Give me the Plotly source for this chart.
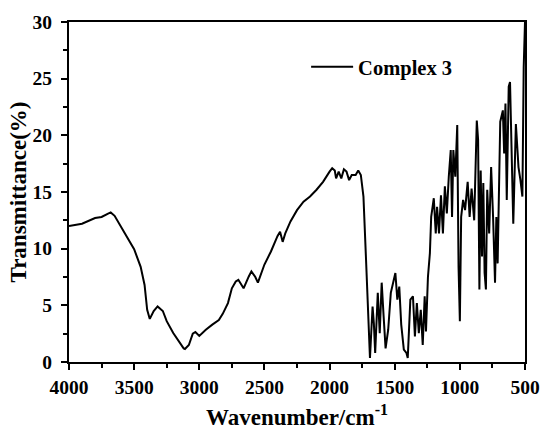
import plotly.graph_objects as go

# FT-IR spectrum of Complex 3 (wavenumber in cm^-1, transmittance in %)
wavenumber = [
    4000, 3900, 3800, 3750, 3700, 3680, 3650, 3600, 3550, 3500, 3450, 3420,
    3400, 3380, 3350, 3320, 3280, 3250, 3200, 3150, 3120, 3110, 3080, 3050,
    3030, 3000, 2950, 2900, 2870, 2850, 2820, 2780, 2750, 2720, 2700, 2660,
    2620, 2600, 2570, 2550, 2500, 2450, 2400, 2380, 2360, 2340, 2300, 2250,
    2200, 2150, 2100, 2050, 2000, 1980, 1960, 1950, 1930, 1910, 1890, 1870,
    1850, 1830, 1800, 1780, 1760, 1740, 1720, 1700, 1690, 1670, 1660, 1650,
    1630, 1615, 1600, 1585, 1570, 1550, 1530, 1510, 1495, 1480, 1465, 1450,
    1430, 1410, 1400, 1380, 1360, 1345, 1330, 1315, 1300, 1285, 1270, 1260,
    1245, 1230, 1220, 1200, 1185, 1175, 1160, 1145, 1130, 1115, 1100, 1085,
    1070, 1060, 1050, 1035, 1020, 1010, 1000, 990, 975, 960, 940, 925,
    910, 890, 870, 860, 850, 840, 830, 820, 810, 800, 790, 775,
    760, 745, 730, 720, 710, 690, 670, 660, 650, 640, 625, 615,
    600, 590, 570, 550, 535, 520, 510, 500,
]
transmittance = [
    12.0, 12.2, 12.7, 12.8, 13.1, 13.2, 12.9, 11.9, 10.9, 9.95, 8.4, 6.8,
    4.6, 3.8, 4.5, 4.9, 4.5, 3.6, 2.55, 1.7, 1.2, 1.15, 1.5, 2.5,
    2.65, 2.3, 2.85, 3.3, 3.5, 3.7, 4.25, 5.2, 6.5, 7.1, 7.25, 6.5,
    7.55, 8.0, 7.5, 7.0, 8.6, 9.75, 11.1, 11.5, 10.6, 11.35, 12.4, 13.4,
    14.15, 14.6, 15.2, 15.9, 16.8, 17.1, 16.9, 16.2, 16.8, 16.2, 17.0, 16.8,
    16.05, 16.5, 16.5, 16.9, 16.5, 14.6, 9.0, 3.1, 0.35, 4.9, 3.4, 0.8,
    6.1, 2.55, 7.0, 4.0, 1.2, 2.85, 6.1, 7.1, 7.85, 5.5, 6.65, 3.3,
    1.1, 0.8, 0.35, 5.5, 5.8, 2.25, 5.2, 2.55, 4.6, 1.5, 5.8, 2.7,
    7.5, 9.6, 12.8, 14.45, 11.35, 13.7, 11.35, 14.7, 11.35, 15.5, 13.1, 16.35,
    18.7, 12.8, 18.7, 16.35, 20.9, 8.4, 3.6, 12.8, 14.3, 13.4, 15.9, 12.8,
    15.3, 12.5, 21.3, 19.6, 6.4, 16.9, 9.3, 15.8, 7.85, 6.4, 15.2, 11.35,
    17.2, 12.8, 7.0, 12.8, 8.7, 21.2, 22.2, 18.4, 22.8, 14.3, 24.3, 24.7,
    17.2, 12.2, 21.0, 17.2, 16.05, 14.6, 26.0, 30.0,
]

x_ticks = [4000, 3500, 3000, 2500, 2000, 1500, 1000, 500]
y_ticks = [0, 5, 10, 15, 20, 25, 30]

FONT = "Liberation Serif"

fig = go.Figure()
fig.add_trace(go.Scatter(
    x=wavenumber, y=transmittance, mode="lines", name="Complex 3",
    line=dict(color="black", width=2),
))

axis_common = dict(
    showline=True, linecolor="black", linewidth=2, mirror=True,
    ticks="outside", ticklen=6, tickwidth=2, tickcolor="black",
    showgrid=False, zeroline=False, automargin=False,
    tickfont=dict(family=FONT, size=19.5, color="black", weight="bold"),
)

fig.update_xaxes(
    range=[4000, 500], tickvals=x_ticks, ticklabelstandoff=1,
    minor=dict(dtick=250, tick0=0, ticks="outside", ticklen=4, tickwidth=2, tickcolor="black"),
    title=dict(text="Wavenumber/cm<sup>-1</sup>", standoff=12,
               font=dict(family=FONT, size=23, color="black", weight="bold")),
    **axis_common,
)
fig.update_yaxes(
    range=[0, 30], tickvals=y_ticks, ticklabelstandoff=5,
    minor=dict(dtick=2.5, tick0=0, ticks="outside", ticklen=4, tickwidth=2, tickcolor="black"),
    title=dict(text="Transmittance(%)", standoff=0,
               font=dict(family=FONT, size=23, color="black", weight="bold")),
    **axis_common,
)

fig.update_layout(
    width=545, height=430,
    margin=dict(l=69, r=20, t=22, b=68),
    paper_bgcolor="white", plot_bgcolor="white",
    showlegend=True,
    legend=dict(
        x=0.52, y=0.868, xanchor="left", yanchor="middle",
        itemwidth=42,
        bgcolor="rgba(0,0,0,0)",
        font=dict(family=FONT, size=20.5, color="black", weight="bold"),
    ),
)

fig.write_html("out.html")
